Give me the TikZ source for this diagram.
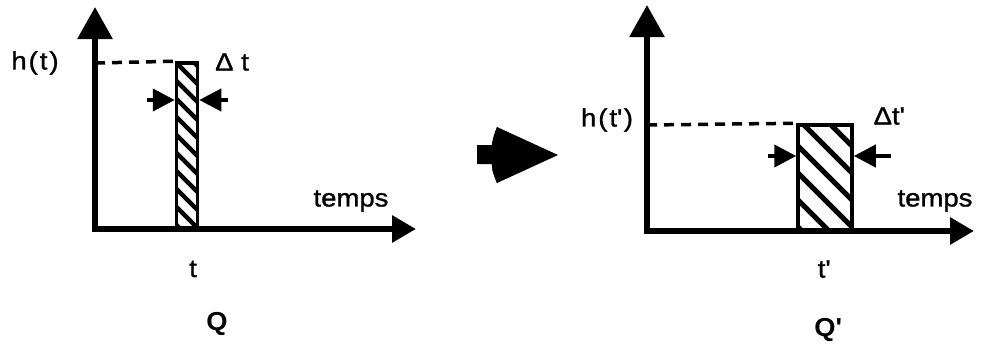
\documentclass[tikz,border=0pt]{standalone}
\usepackage{fontspec}
\setmainfont{Liberation Sans}
\newfontfamily\lblfont{Liberation Sans}[FakeBold=1.2,FakeStretch=1.1]
\newfontfamily\lblbold{Liberation Sans Bold}[FakeStretch=1.05]
\usetikzlibrary{arrows.meta}
\begin{document}
\begin{tikzpicture}[x=1pt,y=-1pt,
  axisY/.style={line width=6pt,-{Triangle[length=32pt,width=34pt]}},
  axisX/.style={line width=6pt,-{Triangle[length=24pt,width=26pt]}},
  widtharrow/.style={line width=4pt,-{Triangle[length=22pt,width=22pt]}},
  levelline/.style={line width=3.5pt,dash pattern=on 10pt off 7pt},
  lbl/.style={inner sep=0pt,font=\fontsize{25}{29}\lblfont},
  blbl/.style={inner sep=0pt,font=\fontsize{26}{30}\lblbold},
  hatchL/.style={draw,line width=3.5pt,inner sep=0pt,
    path picture={
      \path (path picture bounding box.north west) coordinate (nw);
      \foreach \k in {-12,...,2}{
        \draw[line width=4.5pt] ([xshift=\k*18pt]nw) -- ++(220,220);}
    }},
  hatchR/.style={draw,line width=3.5pt,inner sep=0pt,
    path picture={
      \path (path picture bounding box.north west) coordinate (nw);
      \foreach \k in {-5,...,3}{
        \draw[line width=5pt] ([xshift=\k*27pt+6pt]nw) -- ++(150,150);}
    }}]
\useasboundingbox (0,0) rectangle (981,343);

% ---------- left diagram ----------
\coordinate (oL) at (95,229);
\coordinate (yL) at (95,7);
\coordinate (xL) at (416,229);
\node[hatchL,minimum width=21pt,minimum height=166pt] (barL) at (187,146) {};
\draw[axisY] ([yshift=3pt]oL) -- (yL);
\draw[axisX] ([xshift=-3pt]oL) -- (xL);
\coordinate (hLstart) at (95,63);
\draw[levelline] (hLstart) -- (barL.north west);
\coordinate (aLl) at (147,100);
\coordinate (aLr) at (228,100);
\draw[widtharrow] (aLl) -- (aLl -| barL.west);
\draw[widtharrow] (aLr) -- (aLr -| barL.east);
\node[lbl] (hL) at (35,63) {h\kern2pt(\kern2pt t\kern2pt)};
\node[lbl] (dL) at (232,62) {Δ t};
\node[lbl] (tempsL) at (351,201) {temps};
\node[lbl] (tL) at (193,269) {t};
\node[blbl] (QL) at (217,324) {Q};

% ---------- transform arrow ----------
\fill (477,145) -- (495,145) -- (497,127) -- (558,155) -- (497,183)
  .. controls (491,168) and (491,168) .. (495,164) -- (477,164) -- cycle;
\fill (497,127) .. controls (489,145) and (489,165) .. (497,183) -- (520,155) -- cycle;

% ---------- right diagram ----------
\coordinate (oR) at (647,231);
\coordinate (yR) at (647,5);
\coordinate (xR) at (974,231);
\node[hatchR,minimum width=54pt,minimum height=106pt] (barR) at (825,178) {};
\draw[axisY] ([yshift=3pt]oR) -- (yR);
\draw[axisX] ([xshift=-3pt]oR) -- (xR);
\coordinate (hRstart) at (647,125);
\draw[levelline] (hRstart) -- (barR.north west);
\coordinate (aRl) at (768,156);
\coordinate (aRr) at (891,156);
\draw[widtharrow] (aRl) -- (aRl -| barR.west);
\draw[widtharrow] (aRr) -- (aRr -| barR.east);
\node[lbl] (hR) at (607,120) {h\kern2pt(\kern2pt t\textquotesingle\kern2pt)};
\node[lbl] (dR) at (889,116) {Δt\textquotesingle};
\node[lbl] (tempsR) at (935,201) {temps};
\node[lbl] (tR) at (824,269) {t\textquotesingle};
\node[blbl] (QR) at (828,330) {Q\textquotesingle};
\end{tikzpicture}
\end{document}
